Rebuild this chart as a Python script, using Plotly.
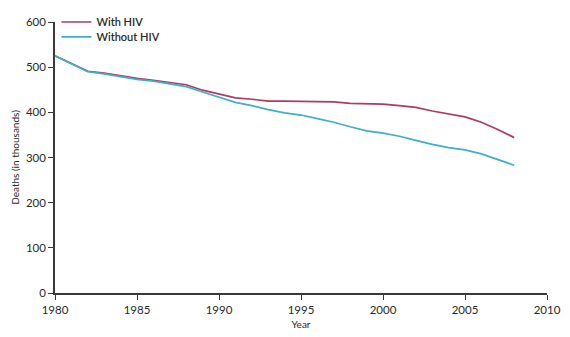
import plotly.graph_objects as go

years = list(range(1980, 2009))
with_hiv = [525, 508, 491, 487, 481, 475, 471, 466, 461, 449, 441, 432, 429, 425, 425,
            424, 424, 423, 420, 419, 418, 415, 411, 403, 397, 390, 378, 362, 344]
without_hiv = [525, 507, 490, 485, 479, 473, 469, 463, 457, 445, 434, 422, 415, 406, 399,
               394, 386, 378, 368, 359, 354, 347, 338, 329, 322, 317, 308, 296, 283]

x_ticks = [1980, 1985, 1990, 1995, 2000, 2005, 2010]
y_ticks = [0, 100, 200, 300, 400, 500, 600]

red = "#b23a5d"
blue = "#3cb0ca"
axis_col = "#3a3a3a"
font_family = "Lato, 'Open Sans', sans-serif"

fig = go.Figure()
fig.add_trace(go.Scatter(x=years, y=with_hiv, mode="lines", name="With HIV",
                         line=dict(color=red, width=1.7), legend="legend"))
fig.add_trace(go.Scatter(x=years, y=without_hiv, mode="lines", name="Without HIV",
                         line=dict(color=blue, width=1.7), legend="legend2"))

leg_common = dict(xanchor="left", yanchor="middle", bgcolor="rgba(0,0,0,0)",
                  font=dict(size=11, color="#2a2a2a", family="Lato Semibold, Lato, sans-serif"),
                  itemwidth=30)

fig.update_layout(
    width=570, height=337,
    margin=dict(l=55, r=23, t=22, b=44, autoexpand=False),
    paper_bgcolor="white", plot_bgcolor="white",
    font=dict(family=font_family, size=11, color="#2a2a2a"),
    showlegend=True,
    legend=dict(x=0.003, y=1.0, **leg_common),
    legend2=dict(x=0.003, y=0.945, **leg_common),
    xaxis=dict(range=[1980, 2010], tickvals=x_ticks, ticks="outside", ticklen=5,
               tickcolor=axis_col, showline=True, linecolor=axis_col, linewidth=1.5,
               showgrid=False, zeroline=False, automargin=False,
               title=dict(text="Year", font=dict(size=10), standoff=6),
               tickfont=dict(size=11.5)),
    yaxis=dict(range=[0, 600], tickvals=y_ticks, ticks="outside", ticklen=5,
               tickcolor=axis_col, showline=True, linecolor=axis_col, linewidth=1.5,
               showgrid=False, zeroline=False, automargin=False,
               title=dict(text="Deaths (in thousands)", font=dict(size=10), standoff=4),
               tickfont=dict(size=11.5)),
)

fig.write_html("out.html")
